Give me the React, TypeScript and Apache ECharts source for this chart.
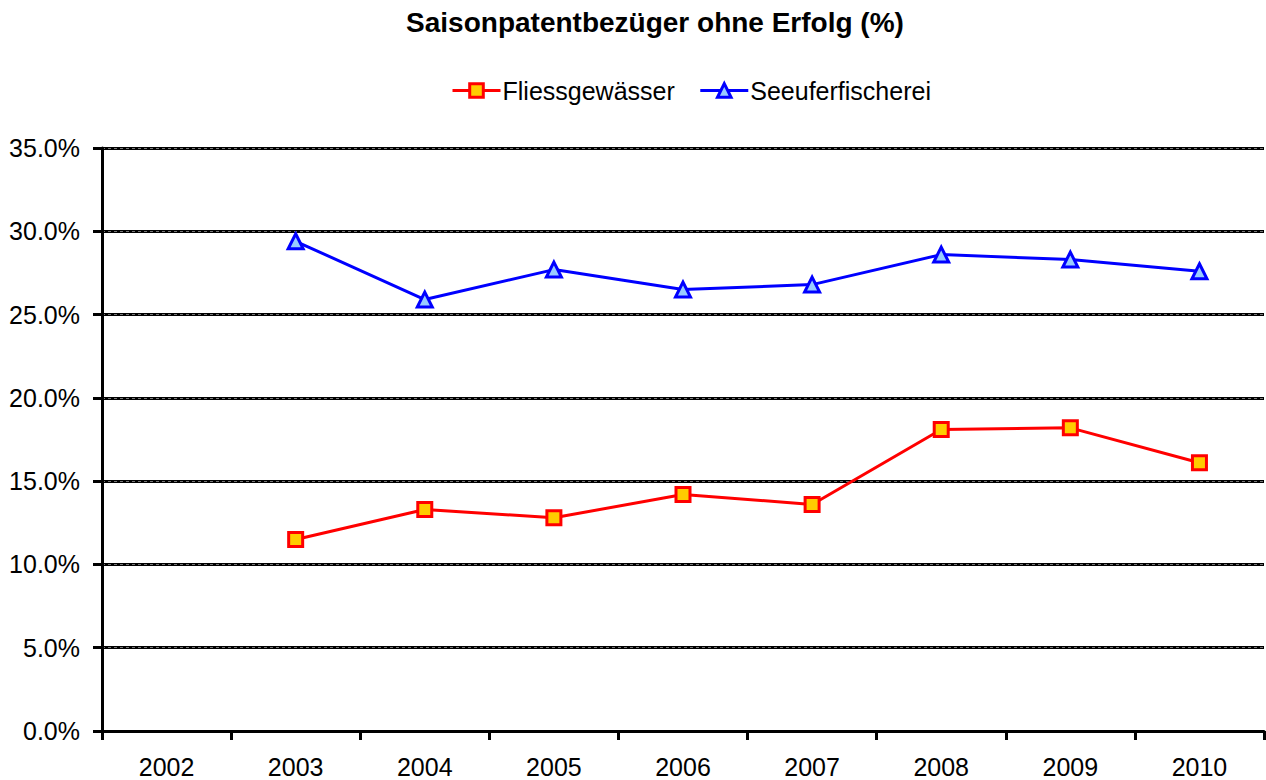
import React, { useEffect, useRef } from "react";
import * as echarts from "echarts";

const years = ["2002", "2003", "2004", "2005", "2006", "2007", "2008", "2009", "2010"];
const fliessgewaesser = [null, 11.5, 13.3, 12.8, 14.2, 13.6, 18.1, 18.2, 16.1];
const seeuferfischerei = [null, 29.4, 25.9, 27.7, 26.5, 26.8, 28.6, 28.3, 27.6];
const yTicks = [0, 5, 10, 15, 20, 25, 30, 35];

const FONT = "'Liberation Sans', Arial, sans-serif";

export default function App() {
  const ref = useRef<HTMLDivElement>(null);
  useEffect(() => {
    const chart = echarts.init(ref.current!, null, { renderer: "svg" });
    chart.setOption({
      animation: false,
      backgroundColor: "#fff",
      title: {
        text: "Saisonpatentbezüger ohne Erfolg (%)",
        left: 650,
        textAlign: "center",
        top: 3,
        textStyle: { fontFamily: FONT, fontSize: 28, fontWeight: "bold", color: "#000" },
      },
      legend: {
        top: 73,
        left: 446,
        itemWidth: 48,
        itemHeight: 17,
        itemGap: 24,
        lineStyle: { width: 3 },
        itemStyle: { borderWidth: 3 },
        textStyle: { fontFamily: FONT, fontSize: 25, color: "#000", padding: [0, 0, 0, -3] },
        data: ["Fliessgewässer", "Seeuferfischerei"],
      },
      grid: { left: 102, right: 2, top: 148, bottom: 49, containLabel: false },
      xAxis: {
        type: "category",
        data: years,
        boundaryGap: true,
        axisLine: { lineStyle: { color: "#000", width: 3 } },
        axisTick: { show: true, length: 9, lineStyle: { color: "#000", width: 3 } },
        axisLabel: { fontFamily: FONT, fontSize: 25, color: "#000", margin: 23 },
      },
      yAxis: [
        {
          type: "value",
          min: 0,
          max: 35,
          interval: 5,
          axisLine: { show: true, lineStyle: { color: "#000", width: 3 } },
          axisTick: { show: true, length: 9, lineStyle: { color: "#000", width: 3 } },
          axisLabel: {
            fontFamily: FONT,
            fontSize: 25,
            color: "#000",
            margin: 22,
            formatter: (v: number) => (yTicks.includes(v) ? v.toFixed(1) + "%" : ""),
          },
          splitLine: { show: true, lineStyle: { color: "#000", width: 3 } },
        },
        {
          type: "value",
          min: 0,
          max: 35,
          interval: 5,
          position: "left",
          axisLine: { show: false },
          axisTick: { show: false },
          axisLabel: { show: false },
          splitLine: { show: true, lineStyle: { color: "#777", width: 1, type: [3, 3] } },
        },
      ],
      series: [
        {
          name: "Fliessgewässer",
          type: "line",
          data: fliessgewaesser,
          symbol: "rect",
          symbolSize: 14,
          lineStyle: { color: "#ff0000", width: 3 },
          itemStyle: { color: "#ffcc00", borderColor: "#ff0000", borderWidth: 3 },
          z: 5,
        },
        {
          name: "Seeuferfischerei",
          type: "line",
          data: seeuferfischerei,
          symbol: "triangle",
          symbolSize: 15,
          lineStyle: { color: "#0000ff", width: 3 },
          itemStyle: { color: "#99ccff", borderColor: "#0000ff", borderWidth: 3 },
          z: 5,
        },
      ],
    });
    return () => chart.dispose();
  }, []);
  return (
    <div
      ref={ref}
      style={{ position: "fixed", left: 0, top: 0, width: 1266, height: 780, background: "#fff" }}
    />
  );
}
